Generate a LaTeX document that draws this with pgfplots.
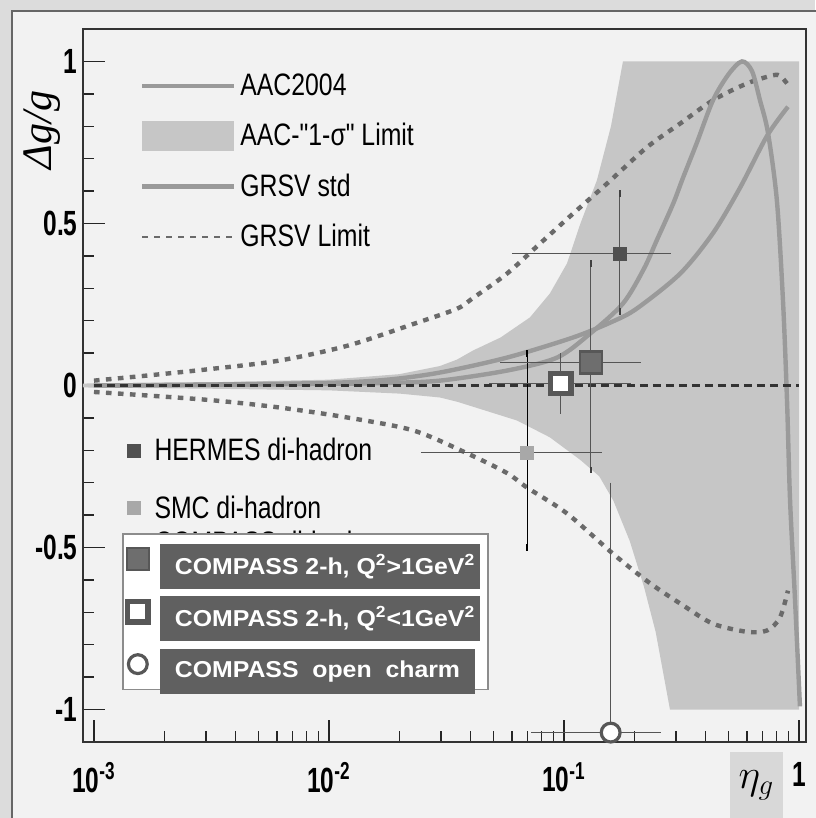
\documentclass[border=0pt]{standalone}
\usepackage{pgfplots}
\pgfplotsset{compat=1.18}
\usepackage{fontspec}
\setmainfont{Liberation Sans}
\newfontfamily\condsans[FakeStretch=0.8]{Liberation Sans}
\newfontfamily\tickfont[FakeStretch=0.7]{Liberation Sans}
\newfontfamily\boxfont[FakeStretch=1.08]{Liberation Sans}
\newfontfamily\libserif{Liberation Serif}
\definecolor{pagebg}{HTML}{F2F2F2}
\definecolor{outerbg}{HTML}{DCDCDC}
\definecolor{bandc}{HTML}{C6C6C6}
\definecolor{curvec}{HTML}{9A9A9A}
\definecolor{limitc}{HTML}{6A6A6A}
\definecolor{boxdark}{HTML}{606060}
\definecolor{hermc}{HTML}{505050}
\definecolor{smcc}{HTML}{A8A8A8}
\definecolor{ebar}{HTML}{555555}
\definecolor{cpfill}{HTML}{6E6E6E}
\definecolor{cpdraw}{HTML}{575757}
\definecolor{etabox}{HTML}{D8D8D8}
\newcommand{\lbox}[2]{{\setlength{\fboxsep}{0pt}\hspace*{3.5pt}\colorbox{boxdark}{\parbox[c][22.5pt][c]{#1}{\hspace*{7.5pt}\color{white}\boxfont\bfseries\fontsize{11.5}{12}\selectfont #2}}}}
\pgfplotsset{
  mylinelegend/.style={legend image code/.code={\draw[##1] (0pt,0pt) -- (46pt,0pt);}},
  mybandlegend/.style={legend image code/.code={\fill[##1] (0pt,-7.5pt) rectangle (46pt,7.5pt);}},
}
\begin{document}
\begin{tikzpicture}
\useasboundingbox (-41.5pt,-38pt) rectangle (366pt,371pt);
\fill[outerbg] (-41.5pt,-38pt) rectangle (366pt,371pt);
\filldraw[fill=pagebg, draw=black!60, line width=0.6pt] (-35.5pt,365.5pt) rectangle (372pt,-44pt);
\begin{axis}[scale only axis, width=361.5pt, height=356.5pt,
  xmode=log, xmin=8.98e-4, xmax=1.071, ymin=-1.1, ymax=1.1,
  clip mode=individual,
  axis line style={draw=black!80, line width=0.8pt},
  tick pos=left,
  major tick length=11pt, minor tick length=5.5pt,
  tick style={black!85, line width=0.7pt},
  ytick={-1,-0.5,0,0.5,1},
  yticklabels={-1,-0.5,0,0.5,1},
  minor ytick={-0.9,-0.8,-0.7,-0.6,-0.4,-0.3,-0.2,-0.1,0.1,0.2,0.3,0.4,0.6,0.7,0.8,0.9},
  xtick={0.001,0.01,0.1,1},
  xticklabels={10\textsuperscript{-3},10\textsuperscript{-2},10\textsuperscript{-1},1},
  minor xtick={0.002,0.003,0.004,0.005,0.006,0.007,0.008,0.009,0.02,0.03,0.04,0.05,0.06,0.07,0.08,0.09,0.2,0.3,0.4,0.5,0.6,0.7,0.8,0.9},
  yticklabel style={font=\tickfont\bfseries\fontsize{17.5}{17.5}\selectfont, inner sep=0pt, xshift=-2.5pt},
  xticklabel style={font=\tickfont\bfseries\fontsize{17.5}{17.5}\selectfont, inner sep=0pt, yshift=-10pt},
  legend cell align=left,
  legend style={at={(axis description cs:0.07,0.949)}, anchor=north west, draw=none, fill=none,
    font=\condsans\fontsize{15.5}{18}\selectfont, row sep=8.5pt},
]
% AAC 1-sigma band
\addplot[fill=bandc, draw=none, forget plot] coordinates {
(8.9e-4,0.006) (0.0031623,0.010) (0.01,0.018) (0.0199526,0.035) (0.0296483,0.060) (0.0350752,0.080) (0.0410204,0.108) (0.0537032,0.148) (0.0716143,0.210) (0.0870964,0.284) (0.1030386,0.377) (0.1174898,0.50) (0.1380384,0.633) (0.1584893,0.80) (0.1782379,1.0) (1.0,1.0) (1.0,-1.0) (0.28248,-1.0)
(0.2454709,-0.76) (0.2187762,-0.62) (0.1905461,-0.48) (0.162181,-0.355) (0.1412538,-0.28) (0.1174898,-0.23) (0.0870964,-0.16) (0.0630957,-0.108) (0.0350752,-0.05) (0.0296483,-0.037) (0.0199526,-0.025) (0.01,-0.015) (0.0031623,-0.01) (8.9e-4,-0.006)
} -- cycle;
% GRSV limits
\addplot[draw=limitc, line width=2.2pt, dash pattern=on 2.8pt off 3.2pt, smooth, forget plot] coordinates {
(0.001,0.015) (0.0016982,0.031) (0.0032359,0.052) (0.006166,0.077) (0.0120226,0.123) (0.0229087,0.19) (0.0350752,0.237) (0.0410204,0.27) (0.0571479,0.345) (0.0790679,0.438) (0.109144,0.53) (0.1524053,0.623) (0.2254239,0.735) (0.3118896,0.808) (0.4305266,0.88) (0.6010557,0.932) (0.7744618,0.957) (0.8317638,0.955) (0.8892011,0.932)};
\addplot[draw=limitc, line width=2.2pt, dash pattern=on 2.8pt off 3.2pt, smooth, forget plot] coordinates {
(0.001,-0.02) (0.0016982,-0.031) (0.0032359,-0.046) (0.006166,-0.068) (0.0120226,-0.099) (0.0229087,-0.139) (0.0389045,-0.21) (0.0571479,-0.27) (0.0696627,-0.315) (0.1030386,-0.395) (0.162181,-0.52) (0.2322737,-0.61) (0.3235937,-0.68) (0.4305266,-0.735) (0.6010557,-0.76) (0.7311391,-0.756) (0.8298538,-0.716) (0.8974288,-0.633)};
% AAC2004
\addplot[draw=curvec, line width=2.2pt, smooth, forget plot] coordinates {
(0.001,0.0) (0.0031623,0.002) (0.01,0.005) (0.0177828,0.008) (0.0296483,0.015) (0.0571479,0.046) (0.0933254,0.086) (0.1291219,0.16) (0.1782379,0.253) (0.2187762,0.36) (0.2488857,0.45) (0.2910717,0.56) (0.3206269,0.64) (0.3681289,0.75) (0.4305266,0.88) (0.5011872,0.96) (0.5714786,1.0) (0.6309573,0.97) (0.6823387,0.88) (0.7379042,0.78) (0.8053784,0.57) (0.8550667,0.26) (0.8892011,-0.046) (0.9162205,-0.355) (0.9616123,-0.66) (1.0092529,-0.99)};
% GRSV std
\addplot[draw=curvec, line width=2.2pt, smooth, forget plot] coordinates {
(0.001,0.0) (0.0031623,0.003) (0.01,0.008) (0.0177828,0.018) (0.0296483,0.04) (0.0571479,0.086) (0.109144,0.148) (0.16181,0.198) (0.20464,0.238) (0.31189,0.345) (0.43053,0.47) (0.56105,0.61) (0.73114,0.77) (0.89743,0.86)};
% zero line
\addplot[black!80, line width=1.1pt, dash pattern=on 4pt off 2.5pt, forget plot] coordinates {(0.001,0) (1,0)};
% HERMES
\addplot[ebar, line width=0.5pt, forget plot] coordinates {(0.060,0.407) (0.285,0.407)};
\addplot[only marks, mark=square*, mark size=3.2pt, mark options={fill=hermc, draw=hermc, line width=0.3pt}, forget plot,
  error bars/.cd, y dir=both, y explicit, error bar style={ebar, line width=0.5pt}, error mark options={black!75, line width=1.2pt, mark size=1.6pt}]
  coordinates {(0.173,0.407) += (0,0.186) -= (0,0.179)};
% SMC
\addplot[ebar, line width=0.5pt, forget plot] coordinates {(0.0246,-0.207) (0.145,-0.207)};
\addplot[only marks, mark=square*, mark size=3.2pt, mark options={fill=smcc, draw=smcc, line width=0.3pt}, forget plot,
  error bars/.cd, y dir=both, y explicit, error bar style={black, line width=0.6pt}, error mark options={black, line width=1.2pt, mark size=1.6pt}]
  coordinates {(0.0697,-0.207) += (0,0.306) -= (0,0.293)};
% COMPASS Q2>1
\addplot[ebar, line width=0.5pt, forget plot] coordinates {(0.0535,0.071) (0.213,0.071)};
\addplot[only marks, mark=square*, mark size=5.5pt, mark options={fill=cpfill, draw=cpdraw, line width=1.2pt}, forget plot,
  error bars/.cd, y dir=both, y explicit, error bar style={ebar, line width=0.5pt}, error mark options={black!75, line width=1.2pt, mark size=1.6pt}]
  coordinates {(0.13,0.071) += (0,0.305) -= (0,0.331)};
% COMPASS Q2<1
\addplot[ebar, line width=0.5pt, forget plot] coordinates {(0.048,0.006) (0.193,0.006)};
\addplot[ebar, line width=0.5pt, forget plot] coordinates {(0.097,-0.087) (0.097,0.10)};
\addplot[only marks, mark=square*, mark size=5.1pt, mark options={fill=white, draw=cpdraw, line width=2.7pt}, forget plot] coordinates {(0.097,0.006)};
% COMPASS open charm
\addplot[ebar, line width=0.5pt, forget plot] coordinates {(0.0724,-1.071) (0.259,-1.071)};
\addplot[ebar, line width=0.5pt, forget plot] coordinates {(0.158,-0.30) (0.158,-1.2)};
\addplot[only marks, mark=*, mark size=4.7pt, mark options={fill=white, draw=cpdraw, line width=1.6pt}, forget plot] coordinates {(0.158,-1.071)};
% legend
\addlegendimage{draw=curvec, line width=2.2pt, mylinelegend}
\addlegendentry{AAC2004}
\addlegendimage{fill=bandc, draw=none, mybandlegend}
\addlegendentry{AAC-"1-σ" Limit}
\addlegendimage{draw=curvec, line width=2.2pt, mylinelegend}
\addlegendentry{GRSV std}
\addlegendimage{draw=limitc, line width=1.4pt, dash pattern=on 3pt off 3pt, mylinelegend}
\addlegendentry{GRSV Limit}
% labels
\node[rotate=90, anchor=west, inner sep=0pt, font=\libserif\itshape\fontsize{21}{21}\selectfont] at (axis description cs:-0.057,0.802) {Δ\kern0.5pt g/g};
\node[fill=etabox, minimum width=26.5pt, minimum height=33pt, inner sep=0pt] at (axis description cs:0.9315,-0.0603) {\fontsize{20}{20}\selectfont$\eta_g$};
\end{axis}
% HERMES / SMC legend
\begin{axis}[scale only axis, width=361.5pt, height=356.5pt,
  xmode=log, xmin=8.98e-4, xmax=1.071, ymin=-1.1, ymax=1.1, hide axis, legend cell align=left,
  legend style={at={(axis description cs:0.053,0.438)}, anchor=north west, draw=none, fill=none,
    font=\condsans\fontsize{15.5}{18}\selectfont, row sep=12pt}]
\addlegendimage{only marks, mark=square*, mark size=3.2pt, mark options={fill=hermc, draw=hermc}}
\addlegendentry{\hspace*{5pt}HERMES di-hadron}
\addlegendimage{only marks, mark=square*, mark size=3.2pt, mark options={fill=smcc, draw=smcc}}
\addlegendentry{\hspace*{5pt}SMC di-hadron}
\addlegendimage{only marks, mark=square*, mark size=3.2pt, mark options={fill=black!70, draw=black!70}}
\addlegendentry{\hspace*{5pt}\raisebox{0pt}[0pt][0pt]{COMPASS di-hadron}}
\end{axis}
% COMPASS legend
\begin{axis}[scale only axis, width=361.5pt, height=356.5pt,
  xmode=log, xmin=8.98e-4, xmax=1.071, ymin=-1.1, ymax=1.1, hide axis, legend cell align=left,
  legend style={at={(axis description cs:0.054,0.293)}, anchor=north west, draw=black!45, line width=0.8pt, fill=white,
    inner xsep=2pt, inner ysep=3pt, row sep=7pt}]
\addlegendimage{only marks, mark=square*, mark size=5.5pt, mark options={fill=cpfill, draw=cpdraw, line width=1.2pt}}
\addlegendentry{\lbox{160pt}{COMPASS 2-h, Q\textsuperscript{2}>1GeV\textsuperscript{2}}}
\addlegendimage{only marks, mark=square*, mark size=5.1pt, mark options={fill=white, draw=cpdraw, line width=2.7pt}}
\addlegendentry{\lbox{160pt}{COMPASS 2-h, Q\textsuperscript{2}<1GeV\textsuperscript{2}}}
\addlegendimage{only marks, mark=*, mark size=4.7pt, mark options={fill=white, draw=cpdraw, line width=1.6pt}}
\addlegendentry{\lbox{157.5pt}{COMPASS\ \ open\ \ charm}}
\end{axis}
\end{tikzpicture}
\end{document}
